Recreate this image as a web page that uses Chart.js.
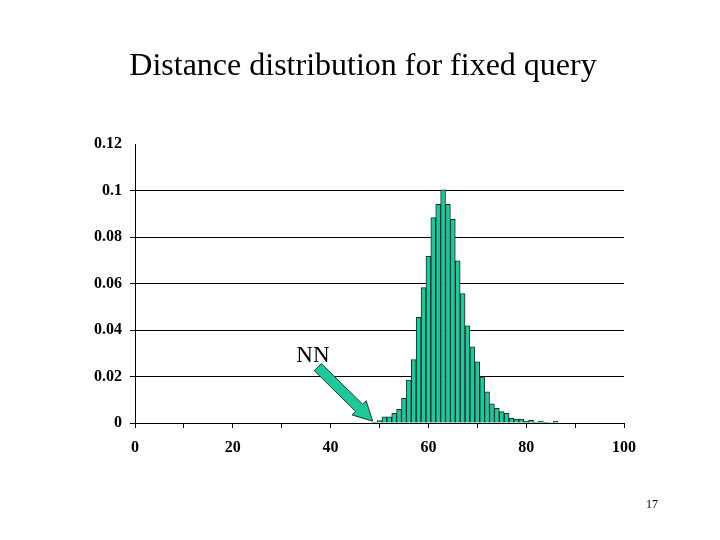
<!DOCTYPE html>
<html>
<head>
<meta charset="utf-8">
<script src="https://cdn.jsdelivr.net/npm/chart.js@4"></script>
<style>
  body{margin:0;background:#fff}
  #wrap{width:720px;height:540px}
</style>
</head>
<body>
<div id="wrap"><canvas id="dist" width="720" height="540"></canvas></div>
<script>
// distance bins (centre of each bin) and relative frequency
const distances = [49,50,51,52,53,54,55,56,57,58,59,60,61,62,63,64,65,66,67,68,
                   69,70,71,72,73,74,75,76,77,78,79,80,81,82,83,84,85,86]
const frequencies = [0.0003,0.0010,0.0027,0.0027,0.0042,0.0059,0.0106,0.0185,0.0273,0.0454,
                     0.0582,0.0717,0.0883,0.0940,0.1003,0.0940,0.0876,0.0697,0.0557,0.0418,
                     0.0328,0.0263,0.0199,0.0134,0.0082,0.0063,0.0049,0.0042,0.0020,0.0017,
                     0.0017,0.0008,0.0012,0.0004,0.0008,0.0003,0.0002,0.0008]
const xTickLabels = [0,20,40,60,80,100]
const yMax = 0.12

const title = 'Distance distribution for fixed query'
const nnLabel = 'NN'
const pageNo = '17'
// arrow from the NN label down to the nearest neighbour (data coords)
const arrowTail = [37.4, 0.0240]
const arrowTip = [48.6, 0.0008]

const teal = '#1fc79a'
const serif = '"Liberation Serif", "Times New Roman", serif'

const extras = {
  id:'extras',
  afterDatasetsDraw(chart){
    const {ctx, scales:{x,y}} = chart
    const t0 = [x.getPixelForValue(arrowTail[0]), y.getPixelForValue(arrowTail[1])]
    const t1 = [x.getPixelForValue(arrowTip[0]), y.getPixelForValue(arrowTip[1])]
    const dx = t1[0]-t0[0], dy = t1[1]-t0[1]
    const len = Math.hypot(dx,dy)
    const ux = dx/len, uy = dy/len, nx = -uy, ny = ux
    const headLen = 19, sw = 5, hw = 10
    const bx = t1[0]-ux*headLen, by = t1[1]-uy*headLen
    const pts = [
      [t0[0]+nx*sw, t0[1]+ny*sw],
      [bx+nx*sw, by+ny*sw],
      [bx+nx*hw, by+ny*hw],
      t1,
      [bx-nx*hw, by-ny*hw],
      [bx-nx*sw, by-ny*sw],
      [t0[0]-nx*sw, t0[1]-ny*sw]
    ]
    ctx.save()
    ctx.beginPath()
    pts.forEach((p,i)=> i ? ctx.lineTo(p[0],p[1]) : ctx.moveTo(p[0],p[1]))
    ctx.closePath()
    ctx.fillStyle = teal
    ctx.fill()
    ctx.strokeStyle = '#1a3a30'
    ctx.lineWidth = 1
    ctx.stroke()

    ctx.fillStyle = '#000'
    ctx.textBaseline = 'alphabetic'
    ctx.font = '23px ' + serif
    ctx.textAlign = 'left'
    ctx.fillText(nnLabel, x.getPixelForValue(33), y.getPixelForValue(0.0262))
    ctx.restore()
  },
  afterDraw(chart){
    const {ctx} = chart
    ctx.save()
    ctx.fillStyle = '#000'
    ctx.textAlign = 'center'
    ctx.textBaseline = 'alphabetic'
    ctx.font = '32px ' + serif
    ctx.fillText(title, 363, 75)
    ctx.font = '12px ' + serif
    ctx.fillText(pageNo, 652, 508)
    ctx.restore()
  }
}

new Chart(document.getElementById('dist'), {
  type:'bar',
  data:{
    datasets:[{
      data: distances.map((d,i)=>({x:d, y:frequencies[i]})),
      backgroundColor: teal,
      borderColor: '#1c2a26',
      borderWidth: 1,
      barPercentage: 1,
      categoryPercentage: 1
    }]
  },
  options:{
    responsive:false,
    animation:false,
    layout:{padding:{left:80, top:144, right:96, bottom:81}},
    plugins:{legend:{display:false}, tooltip:{enabled:false}},
    scales:{
      x:{
        type:'linear',
        min:0, max:100,
        offset:false,
        afterFit: s => { s.height = 36 },
        ticks:{
          stepSize:10,
          autoSkip:false,
          maxRotation:0,
          padding:10,
          color:'#000',
          font:{family:serif, size:16, weight:'bold'},
          callback: v => xTickLabels.includes(v) ? v : ''
        },
        grid:{offset:false, drawOnChartArea:false, tickLength:5, color:'#000'},
        border:{color:'#000', width:1}
      },
      y:{
        min:0, max:yMax,
        afterFit: s => { s.width = 55 },
        ticks:{
          stepSize:0.02,
          padding:8,
          color:'#000',
          font:{family:serif, size:16, weight:'bold'},
          callback: v => String(parseFloat(v.toFixed(2)))
        },
        grid:{
          tickLength:5,
          color: c => Math.abs(c.tick.value - yMax) < 1e-9 ? 'rgba(0,0,0,0)' : '#000'
        },
        border:{color:'#000', width:1}
      }
    }
  },
  plugins:[extras]
})
</script>
</body>
</html>
